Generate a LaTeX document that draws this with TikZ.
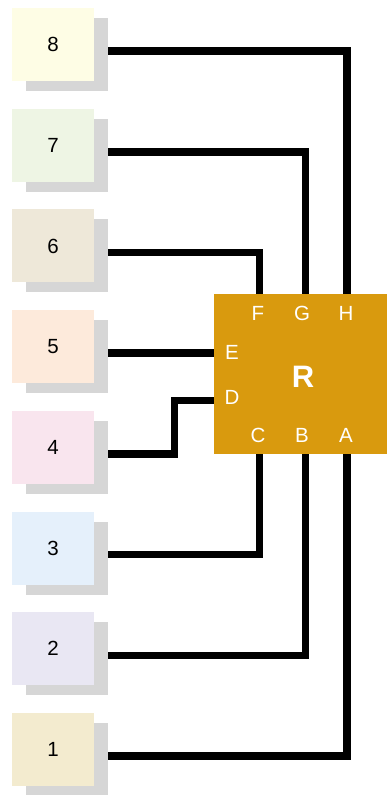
\documentclass[tikz,border=0pt]{standalone}
\usepackage{fontspec}
\setmainfont{Liberation Sans}
\usetikzlibrary{calc,shadows}
\definecolor{c1}{HTML}{F3EBCF}
\definecolor{c2}{HTML}{E9E7F3}
\definecolor{c3}{HTML}{E5F0FB}
\definecolor{c4}{HTML}{F9E5EE}
\definecolor{c5}{HTML}{FDEADB}
\definecolor{c6}{HTML}{EEE8D9}
\definecolor{c7}{HTML}{EEF5E4}
\definecolor{c8}{HTML}{FEFDE5}
\definecolor{shadowgray}{HTML}{D6D6D6}
\definecolor{rfill}{HTML}{D99A0E}
\tikzset{
  lbox/.style={minimum width=82pt, minimum height=73pt, inner sep=0pt,
    font=\fontsize{20.5}{22}\selectfont,
    drop shadow={opacity=1, fill=shadowgray, shadow xshift=14pt, shadow yshift=-10pt}},
  wire/.style={line width=7.5pt},
  port/.style={text=white, font=\fontsize{20.5}{22}\selectfont}
}
\begin{document}
\begin{tikzpicture}[x=1pt,y=1pt]
\useasboundingbox (0,0) rectangle (387,795);
% ingressi
\foreach \i in {1,...,8} {
  \node[lbox, fill=c\i] (n\i) at (53, {45.5+100.7*(\i-1)}) {\i};
  \coordinate (w\i) at ($(n\i.east)+(14,-6.5)$);
}
% blocco R
\node[fill=rfill, minimum width=173pt, minimum height=160pt, inner sep=0pt] (R) at (300.5,421) {};
\node[text=white, font=\bfseries\fontsize{31}{33}\selectfont] at (303,418) {R};
\coordinate (pF) at (259.5,501);
\coordinate (pG) at (305.5,501);
\coordinate (pH) at (347,501);
\coordinate (pC) at (259.5,341);
\coordinate (pB) at (305.5,341);
\coordinate (pA) at (347,341);
\coordinate (pD) at (214,394.5);
\node[port] at (258,482) {F};
\node[port] at (302,482) {G};
\node[port] at (346,482) {H};
\node[port] at (232,443) {E};
\node[port] at (232,398) {D};
\node[port] at (258,360) {C};
\node[port] at (302,360) {B};
\node[port] at (346,360) {A};
% fili
\draw[wire] (w8) -| (pH);
\draw[wire] (w7) -| (pG);
\draw[wire] (w6) -| (pF);
\draw[wire] (w5) -- (w5 -| R.west);
\draw[wire] (w4) -- ++(66.5,0) |- (pD);
\draw[wire] (w3) -| (pC);
\draw[wire] (w2) -| (pB);
\draw[wire] (w1) -| (pA);
\end{tikzpicture}
\end{document}
